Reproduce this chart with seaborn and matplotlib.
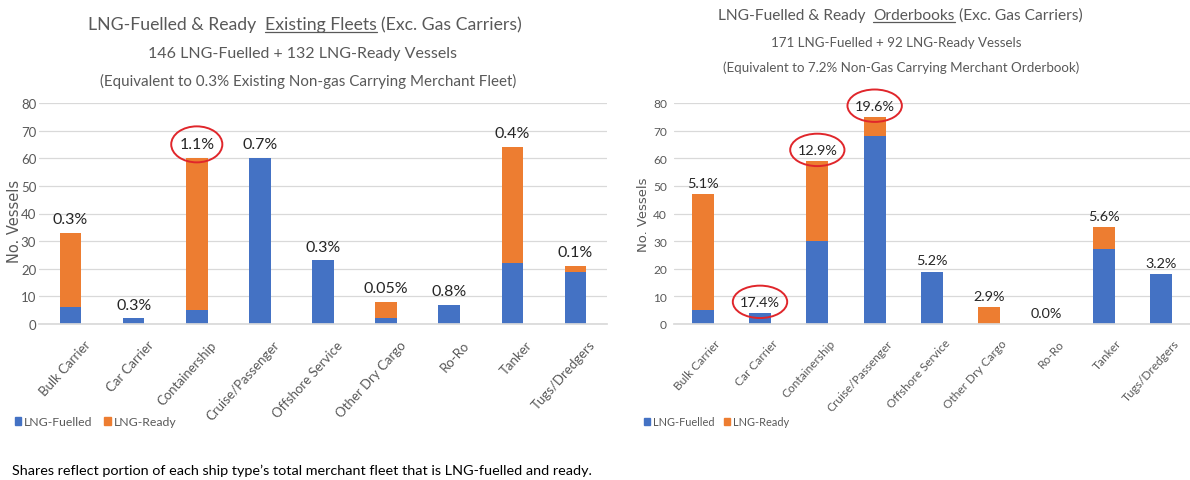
import matplotlib
matplotlib.use("Agg")
import matplotlib.pyplot as plt
import seaborn as sns
import pandas as pd
from matplotlib import font_manager
from matplotlib.lines import Line2D
from matplotlib.patches import Patch, Ellipse
from matplotlib.transforms import IdentityTransform, ScaledTranslation

# ---------------- data ----------------
categories = ["Bulk Carrier", "Car Carrier", "Containership", "Cruise/Passenger",
              "Offshore Service", "Other Dry Cargo", "Ro-Ro", "Tanker", "Tugs/Dredgers"]

existing_fuelled = [6, 2, 5, 60, 23, 2, 7, 22, 19]
existing_ready = [27, 0, 55, 0, 0, 6, 0, 42, 2]
existing_share = ["0.3%", "0.3%", "1.1%", "0.7%", "0.3%", "0.05%", "0.8%", "0.4%", "0.1%"]
existing_circled = [False, False, True, False, False, False, False, False, False]

order_fuelled = [5, 4, 30, 68, 19, 0, 0, 27, 18]
order_ready = [42, 0, 29, 7, 0, 6, 0, 8, 0]
order_share = ["5.1%", "17.4%", "12.9%", "19.6%", "5.2%", "2.9%", "0.0%", "5.6%", "3.2%"]
order_circled = [False, True, True, True, False, False, False, False, False]

left_title = [("LNG-Fuelled & Ready", False), ("Existing Fleets", True), ("(Exc. Gas Carriers)", False)]
left_sub1 = "146 LNG-Fuelled + 132 LNG-Ready Vessels"
left_sub2 = "(Equivalent to 0.3% Existing Non-gas Carrying Merchant Fleet)"
right_title = [("LNG-Fuelled & Ready", False), ("Orderbooks", True), ("(Exc. Gas Carriers)", False)]
right_sub1 = "171 LNG-Fuelled + 92 LNG-Ready Vessels"
right_sub2 = "(Equivalent to 7.2% Non-Gas Carrying Merchant Orderbook)"
footnote = "Shares reflect portion of each ship type\u2019s total merchant fleet that is LNG-fuelled and ready."
y_label = "No. Vessels"
legend_labels = ["LNG-Fuelled", "LNG-Ready"]

# ---------------- style ----------------
BLUE = "#4472C4"
ORANGE = "#ED7D31"
GREY = "#595959"
GRID = "#D9D9D9"
RED = "#E0262B"

sns.set_theme(style="white")
names = {f.name for f in font_manager.fontManager.ttflist}
MAIN = "Lato" if "Lato" in names else "Liberation Sans"
plt.rcParams["font.family"] = [MAIN, "DejaVu Sans"]

W, H = 1190, 481
fig = plt.figure(figsize=(W / 100, H / 100), dpi=100)

def px_axes(x0, x1, ytop, ybot):
    return fig.add_axes([x0 / W, 1 - ybot / H, (x1 - x0) / W, (ybot - ytop) / H])

ax_l = px_axes(39, 607, 104, 325)
ax_r = px_axes(674, 1190, 104, 325)

circle_jobs = []


def draw_panel(ax, fuelled, ready, shares, circled, bar_w, sc, ypad, ylab_xy, loff):
    totals = [f + r for f, r in zip(fuelled, ready)]
    df = pd.DataFrame({"cat": categories, "fuelled": fuelled, "total": totals})
    sns.barplot(data=df, x="cat", y="total", color=ORANGE, saturation=1,
                width=bar_w, errorbar=None, ax=ax, order=categories, linewidth=0)
    sns.barplot(data=df, x="cat", y="fuelled", color=BLUE, saturation=1,
                width=bar_w, errorbar=None, ax=ax, order=categories, linewidth=0)
    ax.set_ylim(0, 80)
    ax.set_xlim(-0.5, len(categories) - 0.5)
    ax.set_yticks(range(0, 81, 10))
    ax.yaxis.grid(True, color=GRID, linewidth=0.9)
    ax.set_axisbelow(True)
    for s in ["top", "right", "left"]:
        ax.spines[s].set_visible(False)
    ax.spines["bottom"].set_color(GRID)
    ax.tick_params(axis="both", length=0, colors=GREY, labelsize=9.5 * sc)
    ax.tick_params(axis="y", pad=ypad)
    ax.tick_params(axis="x", pad=3)
    ax.set_xlabel("")
    ax.set_ylabel(y_label, fontfamily=["DejaVu Sans"], color=GREY, fontsize=10.5 * sc)
    ax.yaxis.set_label_coords(*ylab_xy)
    ax.set_xticks(range(len(categories)))
    ax.set_xticklabels(categories, rotation=48, ha="right", rotation_mode="anchor",
                       color=GREY, fontsize=9.5 * sc)
    shift = ScaledTranslation(13 * sc / 100, -10 * sc / 100, fig.dpi_scale_trans)
    for lbl in ax.get_xticklabels():
        lbl.set_transform(lbl.get_transform() + shift)
    for i, (t, s, c) in enumerate(zip(totals, shares, circled)):
        ann = ax.annotate(s, (i, t), xytext=(0, loff), textcoords="offset points",
                          ha="center", va="center", fontsize=11.5 * sc, color="#262626",
                          annotation_clip=False)
        if c:
            circle_jobs.append((ann, sc))


draw_panel(ax_l, existing_fuelled, existing_ready, existing_share, existing_circled,
           0.34, 1.0, 2, (-0.030, 0.47), 10)
draw_panel(ax_r, order_fuelled, order_ready, order_share, order_circled,
           0.38, 0.9, 5, (-0.047, 0.5), 8)

renderer = fig.canvas.get_renderer()

# red hand-drawn style circles around highlighted shares
for ann, sc in circle_jobs:
    bb = ann.get_window_extent(renderer)
    cx, cy = (bb.x0 + bb.x1) / 2, (bb.y0 + bb.y1) / 2
    fig.add_artist(Ellipse((cx, cy), bb.width + 16 * sc, 36 * sc, fill=False,
                           ec=RED, lw=1.4, transform=IdentityTransform()))

# ---------------- titles ----------------
def width_px(s, size):
    t = fig.text(0, 0, s, fontsize=size)
    w = t.get_window_extent(renderer).width
    t.remove()
    return w


def title_line(xc, y, parts, size, color=GREY):
    sp = width_px("x x", size) - width_px("xx", size)
    widths = [width_px(p, size) for p, _ in parts]
    gaps = [sp * 2, sp]
    total = sum(widths) + sum(gaps)
    x = xc - total / 2
    for k, ((p, ul), w) in enumerate(zip(parts, widths)):
        fig.text(x / W, 1 - y / H, p, fontsize=size, color=color, ha="left", va="baseline")
        if ul:
            fig.add_artist(Line2D([x / W, (x + w) / W], [1 - (y + 2.5) / H] * 2,
                                  color=color, lw=0.9, transform=fig.transFigure))
        if k < len(gaps):
            x += w + gaps[k]


title_line(305, 30, left_title, 12.7)
fig.text(302 / W, 1 - 54 / H, left_sub1, fontsize=11.5, color=GREY, ha="center", va="center")
fig.text(308 / W, 1 - 81 / H, left_sub2, fontsize=10.9, color=GREY, ha="center", va="center")
title_line(900, 20, right_title, 11.2)
fig.text(896 / W, 1 - 43 / H, right_sub1, fontsize=9.6, color=GREY, ha="center", va="center")
fig.text(901 / W, 1 - 68 / H, right_sub2, fontsize=9.6, color=GREY, ha="center", va="center")

# ---------------- legends ----------------
handles = [Patch(color=BLUE), Patch(color=ORANGE)]
for xl, sc in ((6, 1.0), (636, 0.9)):
    fig.legend(handles, legend_labels, loc="center left",
               bbox_to_anchor=(xl / W, 1 - 423 / H), ncol=2, frameon=False,
               handlelength=0.55, handleheight=0.55, handletextpad=0.25,
               columnspacing=0.9, fontsize=8.8 * sc, labelcolor=GREY,
               borderpad=0.2)

fig.text(12 / W, 1 - 471 / H, footnote, fontsize=10.4, color="black", ha="left", va="center")

fig.savefig("out.png", dpi=100, facecolor="white")
